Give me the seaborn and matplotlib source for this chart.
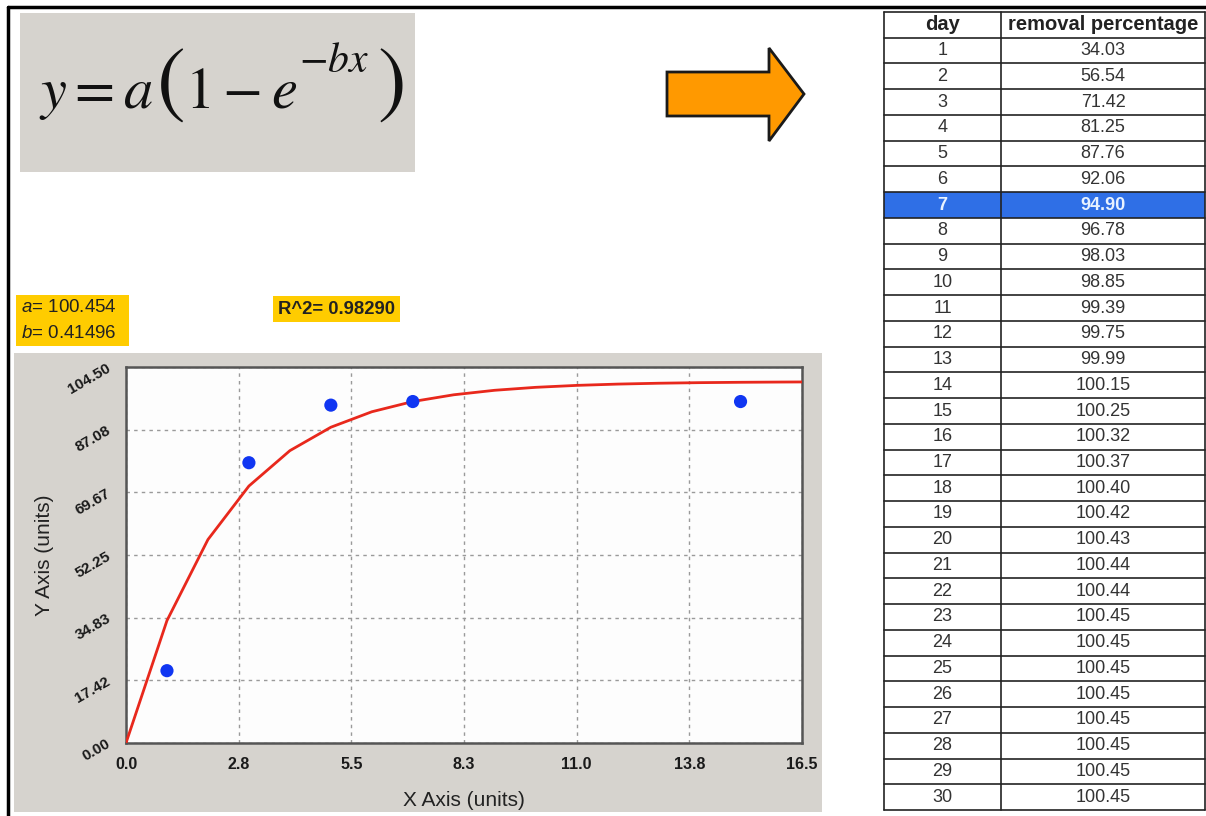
import numpy as np
import pandas as pd
import matplotlib
matplotlib.use("Agg")
import matplotlib.pyplot as plt
import seaborn as sns
from matplotlib.patches import Rectangle, Polygon
from matplotlib.lines import Line2D
from matplotlib.ticker import AutoMinorLocator

# Valeurs
a_fit = 100.454
b_fit = 0.41496
r2_fit = 0.98290

# points mesurés (graphique)
x_obs = [1, 3, 5, 7, 15]
y_obs = [20.1, 77.9, 93.9, 94.9, 94.9]

# tableau de droite
days = list(range(1, 31))
removal = [34.03, 56.54, 71.42, 81.25, 87.76, 92.06, 94.90, 96.78, 98.03, 98.85,
           99.39, 99.75, 99.99, 100.15, 100.25, 100.32, 100.37, 100.40, 100.42, 100.43,
           100.44, 100.44, 100.45, 100.45, 100.45, 100.45, 100.45, 100.45, 100.45, 100.45]
highlight_day = 7

x_ticks = [0.0, 2.75, 5.5, 8.25, 11.0, 13.75, 16.5]
x_tick_labels = ['0.0', '2.8', '5.5', '8.3', '11.0', '13.8', '16.5']
y_ticks = [0.0, 17.42, 34.83, 52.25, 69.67, 87.08, 104.50]
y_tick_labels = ['0.00', '17.42', '34.83', '52.25', '69.67', '87.08', '104.50']

sns.set_style("white")
plt.rcParams['font.family'] = ['Liberation Sans', 'DejaVu Sans']
plt.rcParams['mathtext.fontset'] = 'custom'
plt.rcParams['mathtext.it'] = 'Liberation Sans:italic'
plt.rcParams['mathtext.rm'] = 'Liberation Sans'

W, H = 1206, 816


def box(x0, y0, x1, y1):
    # coordonnées pixel (origine en haut à gauche) -> fraction de figure
    return [x0 / W, 1 - y1 / H, (x1 - x0) / W, (y1 - y0) / H]


def fx(x):
    return x / W


def fy(y):
    return 1 - y / H


def rect(x0, y0, x1, y1, color):
    fig.add_artist(Rectangle((fx(x0), fy(y1)), (x1 - x0) / W, (y1 - y0) / H,
                             transform=fig.transFigure, facecolor=color,
                             edgecolor='none', zorder=0))


fig = plt.figure(figsize=(W / 100, H / 100), dpi=100)

# cadre noir
fig.add_artist(Line2D([fx(8), fx(8)], [0, fy(7)], color='black', lw=2.5,
                      transform=fig.transFigure))
fig.add_artist(Line2D([fx(8), 1], [fy(7), fy(7)], color='black', lw=2.5,
                      transform=fig.transFigure))

# équation (parenthèses plus grandes, exposant placé à part)
rect(20, 13, 415, 172, '#D6D3CE')
eq_kw = dict(math_fontfamily='stix', va='baseline', color='#111111')
fig.text(fx(39), fy(108), r'$y=a$', fontsize=42, **eq_kw)
fig.text(fx(156), fy(107), r'$($', fontsize=62, **eq_kw)
fig.text(fx(185), fy(108), r'$1-e$', fontsize=42, **eq_kw)
fig.text(fx(299), fy(72), r'$-bx$', fontsize=30, **eq_kw)
fig.text(fx(377), fy(107), r'$)$', fontsize=62, **eq_kw)

# flèche orange
pts = [(667, 72), (769, 72), (769, 48), (804, 94), (769, 141), (769, 116), (667, 116)]
fig.add_artist(Polygon([(fx(px), fy(py)) for px, py in pts], closed=True,
                       transform=fig.transFigure, facecolor='#FF9900',
                       edgecolor='#1a1a1a', lw=2))

# paramètres
rect(16, 295, 129, 346, '#FFCC00')
fig.text(fx(21), fy(308), r'$a$= {:.3f}'.format(a_fit), fontsize=13.5,
         va='center', color='#222222')
fig.text(fx(21), fy(333), r'$b$= {:.5f}'.format(b_fit), fontsize=13.5,
         va='center', color='#222222')
rect(273, 296, 400, 322, '#FFCC00')
fig.text(fx(337), fy(310), 'R^2= {:.5f}'.format(r2_fit), fontsize=13.3,
         fontweight='bold', ha='center', va='center', color='#222222')

# graphique
rect(14, 353, 822, 812, '#D6D3CE')
ax = fig.add_axes(box(126, 367, 802, 743))
ax.set_facecolor('#FDFDFD')

courbe = pd.DataFrame({'x': [0] + days, 'y': [0.0] + removal})
sns.lineplot(data=courbe, x='x', y='y', ax=ax, color='#E8281C', lw=2, zorder=3)
sns.scatterplot(x=x_obs, y=y_obs, ax=ax, color='#1036F2', s=90,
                edgecolor='none', zorder=4)

ax.set_xlim(0, 16.5)
ax.set_ylim(0, 104.5)
ax.set_xticks(x_ticks)
ax.set_xticklabels(x_tick_labels)
ax.set_yticks(y_ticks)
ax.set_yticklabels(y_tick_labels)
ax.xaxis.set_minor_locator(AutoMinorLocator(4))
ax.yaxis.set_minor_locator(AutoMinorLocator(4))
ax.grid(True, which='major', ls=(0, (2.5, 3)), color='#9A9A9A', lw=1)
ax.tick_params(which='both', direction='out', length=4, width=1.3, color='#444444')
ax.tick_params(axis='x', pad=6, labelsize=11.5)
ax.tick_params(axis='y', pad=8, labelsize=11)
for lab in ax.get_xticklabels():
    lab.set_fontweight('bold')
    lab.set_color('#1a1a1a')
for lab in ax.get_yticklabels():
    lab.set_fontweight('bold')
    lab.set_color('#1a1a1a')
    lab.set_rotation(30)
    lab.set_rotation_mode('anchor')
    lab.set_ha('right')
    lab.set_va('center')
for sp in ax.spines.values():
    sp.set_color('#555555')
    sp.set_linewidth(1.8)
ax.set_xlabel('')
ax.set_ylabel('')
fig.text(fx(464), fy(800), 'X Axis (units)', fontsize=15, ha='center',
         va='center', color='#222222')
fig.text(fx(45), fy(555), 'Y Axis (units)', fontsize=15, ha='center',
         va='center', rotation=90, color='#222222')

# tableau
ax_t = fig.add_axes(box(884, 12, 1205, 810))
ax_t.set_xlim(0, 321)
ax_t.set_ylim(31, 0)
ax_t.axis('off')
ax_t.add_patch(Rectangle((0, highlight_day), 321, 1, facecolor='#2F6FE6',
                         edgecolor='none'))
for i in range(32):
    ax_t.plot([0, 321], [i, i], color='#222222', lw=1.2, clip_on=False)
for xv in [0, 117, 321]:
    ax_t.plot([xv, xv], [0, 31], color='#222222', lw=1.2, clip_on=False)
ax_t.text(58.5, 0.5, 'day', ha='center', va='center', fontsize=14.5,
          fontweight='bold', color='#222222')
ax_t.text(219, 0.5, 'removal percentage', ha='center', va='center',
          fontsize=14.5, fontweight='bold', color='#222222')
for d, v in zip(days, removal):
    row = d + 0.5
    if d == highlight_day:
        kw = dict(color='#E8F2FF', fontweight='bold')
    else:
        kw = dict(color='#333333')
    ax_t.text(58.5, row, str(d), ha='center', va='center', fontsize=13, **kw)
    ax_t.text(219, row, '{:.2f}'.format(v), ha='center', va='center',
              fontsize=13, **kw)

fig.savefig('out.png', dpi=100)
